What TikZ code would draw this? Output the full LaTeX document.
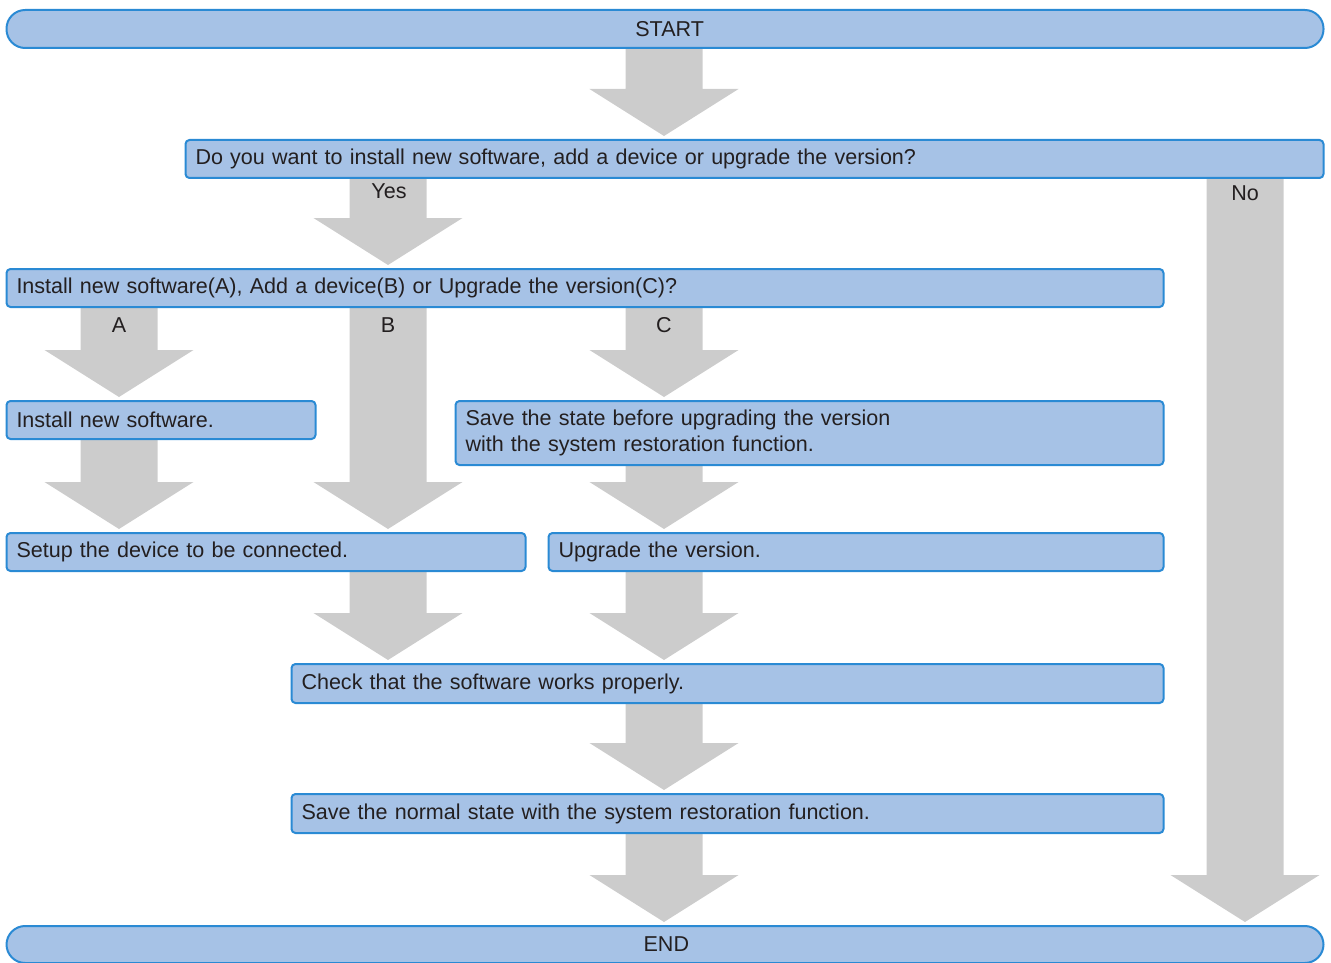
\documentclass[tikz,border=0pt]{standalone}
\usepackage{fontspec}
\setmainfont{Liberation Sans}
\usetikzlibrary{calc,backgrounds}
\definecolor{boxfill}{HTML}{A6C2E6}
\definecolor{boxline}{HTML}{2A8AD4}
\definecolor{arrowgray}{HTML}{CCCCCC}
\definecolor{txt}{HTML}{231F20}
\tikzset{
  box/.style={draw=boxline, fill=boxfill, line width=1.5pt, rounded corners=3pt,
    inner xsep=7.5pt, inner ysep=0pt, text=txt,
    font=\fontsize{16.15}{19.5}\selectfont},
  lbl/.style={text=txt, inner sep=0pt, font=\fontsize{16.15}{19.5}\selectfont},
}
\newcommand\flowbox[7]{%
  \pgfmathsetlengthmacro\tw{(#4-#2-20)*0.75pt}%
  \pgfmathsetlengthmacro\bh{(#5-#3)*0.75pt}%
  \node[box, text width=\tw, minimum height=\bh, anchor=north west, #6] (#1) at (#2,#3) {#7};}
\newcommand\barrow[3]{%
  \fill[arrowgray] let \p1=(#1.south -| #3), \p2=(#2.north -| #3) in
    ({\x1-28.875pt},\y1) -- ({\x1+28.875pt},\y1) -- ({\x1+28.875pt},{\y2+37.5pt})
    -- ({\x1+55.9pt},{\y2+37.5pt}) -- (\x1,{\y2+2.25pt}) -- ({\x1-55.9pt},{\y2+37.5pt})
    -- ({\x1-28.875pt},{\y2+37.5pt}) -- cycle;}
\begin{document}
\begin{tikzpicture}[x=0.75pt,y=-0.75pt]
\useasboundingbox (0,0) rectangle (1331,963);
\coordinate (colA) at (119,0);
\coordinate (colB) at (388,0);
\coordinate (colC) at (664,0);
\coordinate (colN) at (1245,0);

\flowbox{start}{5.5}{9}{1322.5}{47}{align=center, rounded corners=14pt}{\hspace*{7pt}START}
\flowbox{q1}{184.5}{139}{1322.5}{177}{align=left}{Do you want to install new software, add a device or upgrade the version?}
\flowbox{q2}{5.5}{268}{1162.5}{306}{align=left}{Install new software(A), Add a device(B) or Upgrade the version(C)?}
\flowbox{inst}{5.5}{400}{314.5}{438}{align=left}{Install new software.}
\flowbox{save1}{454.5}{400}{1162.5}{464}{align=left}{Save the state before upgrading the version\\with the system restoration function.}
\flowbox{setup}{5.5}{532}{524.5}{570}{align=left}{Setup the device to be connected.}
\flowbox{upg}{547.5}{532}{1162.5}{570}{align=left}{Upgrade the version.}
\flowbox{check}{290.5}{663}{1162.5}{702}{align=left}{Check that the software works properly.}
\flowbox{savenorm}{290.5}{793}{1162.5}{832}{align=left}{Save the normal state with the system restoration function.}
\flowbox{end}{5.5}{925}{1322.5}{962}{align=center, rounded corners=14pt}{\hspace*{2pt}END}

\begin{scope}[on background layer]
\barrow{start}{q1}{colC}
\barrow{q1}{q2}{colB}
\barrow{q1}{end}{colN}
\barrow{q2}{inst}{colA}
\barrow{q2}{setup}{colB}
\barrow{q2}{save1}{colC}
\barrow{inst}{setup}{colA}
\barrow{save1}{upg}{colC}
\barrow{setup}{check}{colB}
\barrow{upg}{check}{colC}
\barrow{check}{savenorm}{colC}
\barrow{savenorm}{end}{colC}
\end{scope}

\node[lbl] (yes) at (389,191) {Yes};
\node[lbl] (no) at (1245,193) {No};
\node[lbl] (la) at (119,325) {A};
\node[lbl] (lb) at (388,325) {B};
\node[lbl] (lc) at (664,325) {C};
\end{tikzpicture}
\end{document}
